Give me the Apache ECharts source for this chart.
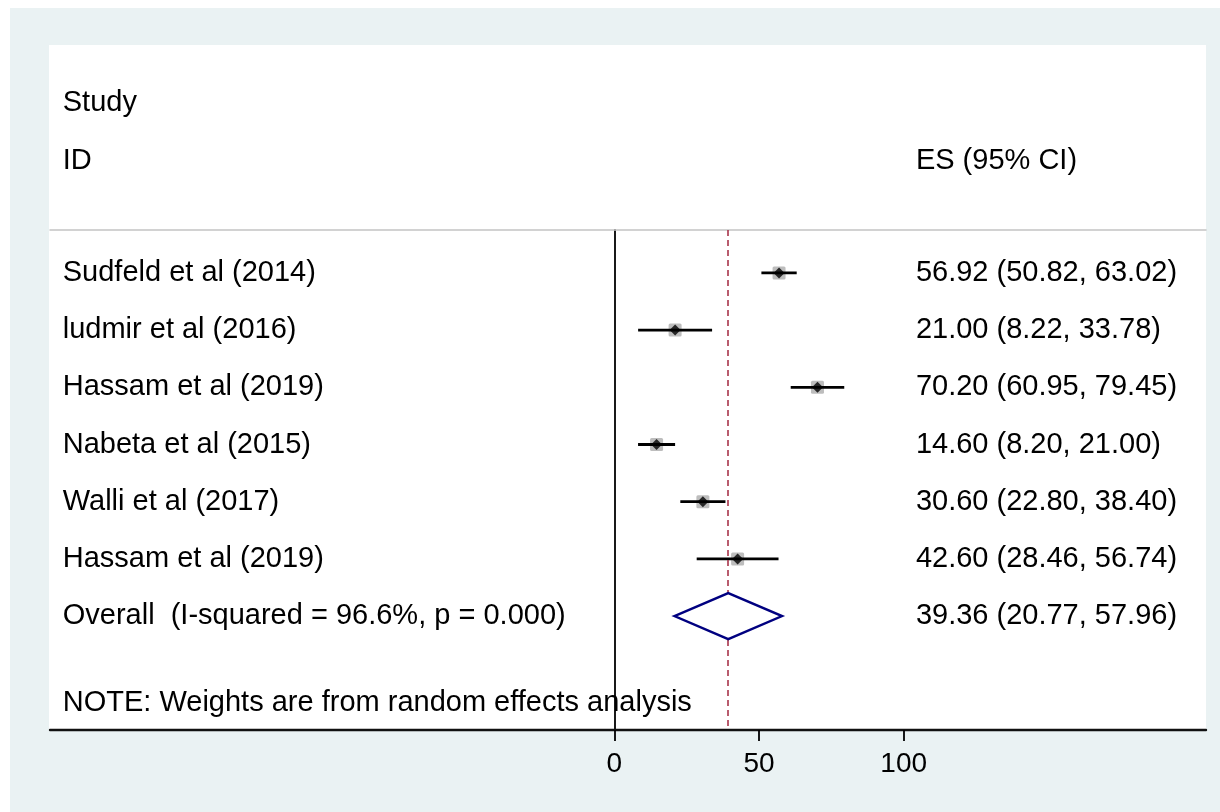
<!DOCTYPE html>
<html>
<head>
<meta charset="utf-8">
<script src="https://cdn.jsdelivr.net/npm/echarts@6/dist/echarts.min.js"></script>
<style>
  html, body { margin: 0; padding: 0; background: #ffffff; }
  #chart { width: 1220px; height: 812px; }
</style>
</head>
<body>
<div id="chart"></div>
<script>
// ---- data ----
const studies = ['Sudfeld et al (2014)', 'ludmir et al (2016)', 'Hassam et al (2019)', 'Nabeta et al (2015)', 'Walli et al (2017)', 'Hassam et al (2019)'];
const es = [56.92, 21.00, 70.20, 14.60, 30.60, 42.60];
const lower = [50.82, 8.22, 60.95, 8.20, 22.80, 28.46];
const upper = [63.02, 33.78, 79.45, 21.00, 38.40, 56.74];
const overallLabel = 'Overall  (I-squared = 96.6%, p = 0.000)';
const overall = [39.36, 20.77, 57.96]; // ES, lower, upper
const xTicks = [0, 50, 100];
const headerLeft = ['Study', 'ID'];
const headerRight = 'ES (95% CI)';
const note = 'NOTE: Weights are from random effects analysis';

// ---- layout constants ----
const X_MIN = -195.0, X_MAX = 204.45;
const LEFT_COL = -190.6, RIGHT_COL = 104.2;
const Y_MIN = 0.25, Y_MAX = 8.991;
const FONT = 'Liberation Sans, Arial, Helvetica, sans-serif';
const FS = 29;

const fmt = (e, l, u) => e.toFixed(2) + ' (' + l.toFixed(2) + ', ' + u.toFixed(2) + ')';

// text items
const texts = [];
texts.push({ x: LEFT_COL, y: -1.97, t: headerLeft[0] });
texts.push({ x: LEFT_COL, y: -0.956, t: headerLeft[1] });
texts.push({ x: RIGHT_COL, y: -0.956, t: headerRight });
studies.forEach((s, i) => {
  texts.push({ x: LEFT_COL, y: i + 1, t: s });
  texts.push({ x: RIGHT_COL, y: i + 1, t: fmt(es[i], lower[i], upper[i]) });
});
texts.push({ x: LEFT_COL, y: studies.length + 1, t: overallLabel });
texts.push({ x: RIGHT_COL, y: studies.length + 1, t: fmt(overall[0], overall[1], overall[2]) });
texts.push({ x: LEFT_COL, y: 8.519, t: note });

const ciData = studies.map((s, i) => [lower[i], upper[i], es[i], i + 1]);
const pointData = studies.map((s, i) => [es[i], i + 1]);

const chart = echarts.init(document.getElementById('chart'), null, { renderer: 'canvas' });

const option = {
  animation: false,
  backgroundColor: '#ffffff',
  graphic: [
    { type: 'rect', z: -10, shape: { x: 10, y: 8, width: 1210, height: 804 }, style: { fill: '#eaf2f3' } },
    { type: 'rect', z: -9, shape: { x: 49, y: 45, width: 1157, height: 685 }, style: { fill: '#ffffff' } }
  ],
  grid: { left: 50, right: 14, top: 230, bottom: 82, containLabel: false },
  xAxis: [
    {
      type: 'value', position: 'bottom', min: X_MIN, max: X_MAX,
      axisLine: { show: true, onZero: false, lineStyle: { color: '#111', width: 2.4 } },
      axisTick: { show: true, customValues: xTicks, length: 11, lineStyle: { color: '#000', width: 1.8 } },
      axisLabel: { show: true, customValues: xTicks, margin: 20, fontSize: 28, fontFamily: FONT, color: '#000' },
      splitLine: { show: false }
    },
    {
      type: 'value', position: 'top', min: X_MIN, max: X_MAX,
      axisLine: { show: true, onZero: false, lineStyle: { color: '#c4c4c4', width: 1.5 } },
      axisTick: { show: false }, axisLabel: { show: false }, splitLine: { show: false }
    }
  ],
  yAxis: {
    type: 'value', inverse: true, min: Y_MIN, max: Y_MAX,
    axisLine: { show: true, onZero: true, onZeroAxisIndex: 0, lineStyle: { color: '#000', width: 1.8 } },
    axisTick: { show: false }, axisLabel: { show: false }, splitLine: { show: false }
  },
  series: [
    {
      type: 'line', data: [], z: 1, silent: true,
      markLine: {
        silent: true, symbol: ['none', 'none'], label: { show: false },
        lineStyle: { color: '#a8344a', width: 1.6, type: [6, 4] },
        data: [{ xAxis: overall[0] }]
      }
    },
    {
      type: 'custom', z: 3, silent: true,
      data: ciData,
      renderItem: function (params, api) {
        const lo = api.coord([api.value(0), api.value(3)]);
        const hi = api.coord([api.value(1), api.value(3)]);
        const c = api.coord([api.value(2), api.value(3)]);
        const b = 13;
        return {
          type: 'group',
          children: [
            { type: 'rect', shape: { x: c[0] - b / 2, y: c[1] - b / 2, width: b, height: b, r: 1.5 }, style: { fill: '#bdbdbd' } },
            { type: 'line', shape: { x1: lo[0], y1: lo[1], x2: hi[0], y2: hi[1] }, style: { stroke: '#000', lineWidth: 2.8 } }
          ]
        };
      }
    },
    {
      type: 'scatter', z: 4, silent: true,
      data: pointData, symbol: 'diamond', symbolSize: 11,
      itemStyle: { color: '#000' }
    },
    {
      type: 'custom', z: 5, silent: true,
      data: [[overall[1], overall[2], overall[0], studies.length + 1]],
      renderItem: function (params, api) {
        const y = api.value(3);
        const l = api.coord([api.value(0), y]);
        const r = api.coord([api.value(1), y]);
        const c = api.coord([api.value(2), y]);
        const h = 23;
        return {
          type: 'polygon',
          shape: { points: [[l[0], l[1]], [c[0], c[1] - h], [r[0], r[1]], [c[0], c[1] + h]] },
          style: { fill: '#ffffff', stroke: '#000080', lineWidth: 2.4 }
        };
      }
    },
    {
      type: 'custom', z: 6, silent: true, clip: false,
      data: texts.map(d => [d.x, d.y]),
      renderItem: function (params, api) {
        const p = api.coord([api.value(0), api.value(1)]);
        return {
          type: 'text',
          x: p[0], y: p[1],
          style: {
            text: texts[params.dataIndex].t,
            fontSize: FS, fontFamily: FONT, fill: '#000',
            align: 'left', verticalAlign: 'middle'
          }
        };
      }
    }
  ]
};
chart.setOption(option);
</script>
</body>
</html>
